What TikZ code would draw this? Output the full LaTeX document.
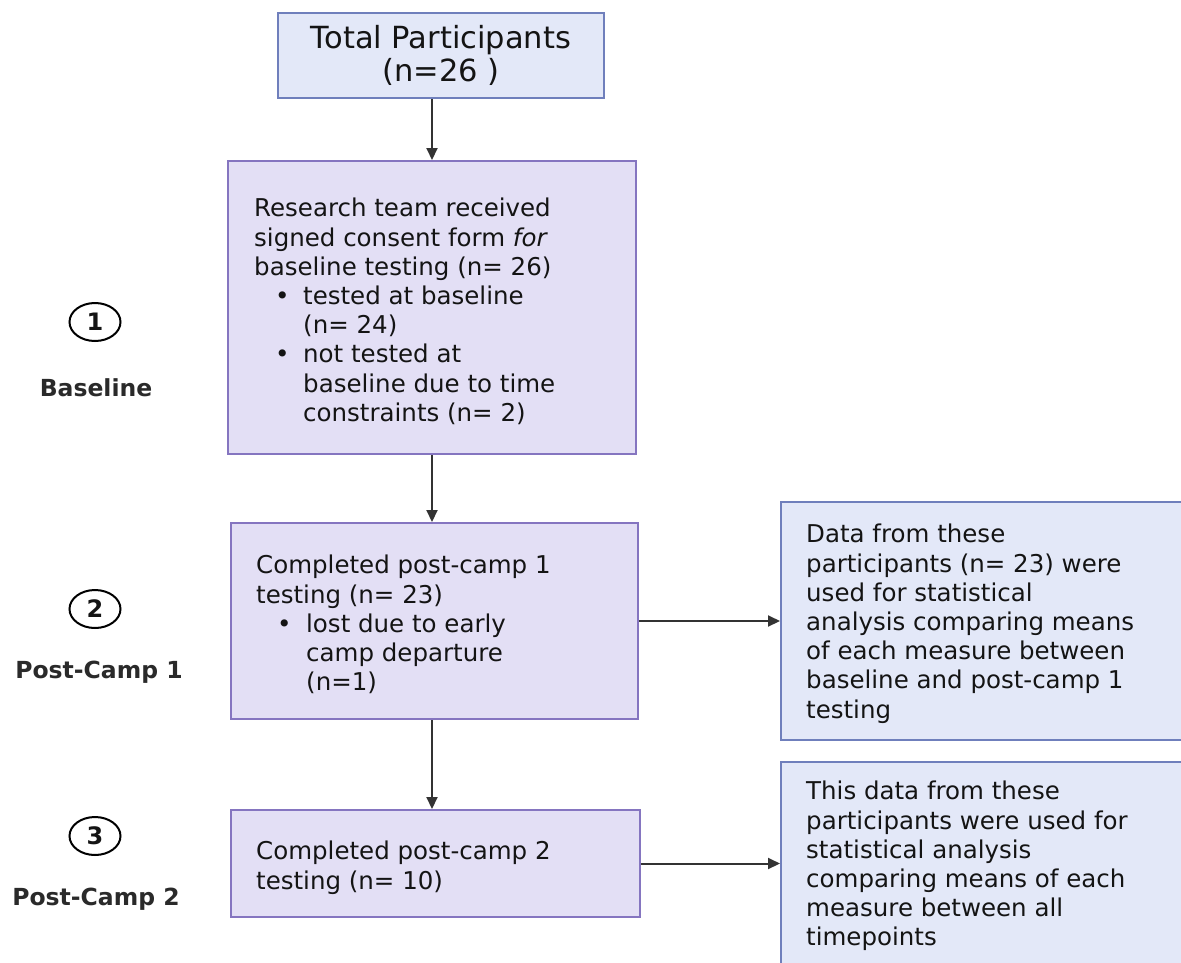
\documentclass[tikz,border=0pt]{standalone}
\usepackage{fontspec}
\setmainfont{DejaVu Sans}
\usetikzlibrary{arrows.meta,shapes.geometric}
\definecolor{bluefill}{HTML}{E3E8F8}
\definecolor{blueline}{HTML}{6F7FBC}
\definecolor{purpfill}{HTML}{E3DFF5}
\definecolor{purpline}{HTML}{8575C0}
\definecolor{arrowc}{HTML}{333333}
\definecolor{txt}{HTML}{141414}
\definecolor{lbl}{HTML}{2A2A2A}
\begin{document}
\begin{tikzpicture}[x=1pt,y=-1pt,
  bluebox/.style={draw=blueline, fill=bluefill, line width=2pt, inner sep=0pt, rectangle},
  purpbox/.style={draw=purpline, fill=purpfill, line width=2pt, inner sep=0pt, rectangle},
  body/.style={anchor=north west, inner sep=0pt, align=left, font=\fontsize{24.5}{29.2}\selectfont, text=txt},
  flow/.style={draw=arrowc, line width=2pt, -{Triangle[length=12pt,width=11pt]}},
  stage/.style={draw=black, line width=2pt, ellipse, minimum width=51pt, minimum height=38pt, inner sep=0pt, font=\bfseries\fontsize{24}{28}\selectfont, text=txt},
  stagelabel/.style={font=\bfseries\fontsize{23.5}{28}\selectfont, text=lbl, inner sep=0pt, anchor=base}
]
\useasboundingbox (0,0) rectangle (1181,962);
\clip (0,0) rectangle (1181,962);
\fill[white] (0,0) rectangle (1181,962);

% boxes
\node[bluebox, minimum width=326pt, minimum height=85pt] (top) at (441,55.5) {};
\node[purpbox, minimum width=408pt, minimum height=293pt] (consent) at (432,307.5) {};
\node[purpbox, minimum width=407pt, minimum height=196pt] (pc1) at (434.5,621) {};
\node[purpbox, minimum width=409pt, minimum height=107pt] (pc2) at (435.5,863.5) {};
\node[bluebox, minimum width=419pt, minimum height=238pt] (res1) at (990.5,621) {};
\node[bluebox, minimum width=419pt, minimum height=238pt] (res2) at (990.5,881) {};

% texts
\node[inner sep=0pt, align=center, font=\fontsize{30.5}{33}\selectfont, text=txt] (toptext) at (441,55) {Total Participants\\(n=26 )};

\node[body] (consenttext) at (254,198) {Research team received\\
signed consent form \textit{for}\\
baseline testing (n= 26)\\
\makebox[49pt][l]{\hspace*{21pt}•}tested at baseline\\
\hspace*{49pt}(n= 24)\\
\makebox[49pt][l]{\hspace*{21pt}•}not tested at\\
\hspace*{49pt}baseline due to time\\
\hspace*{49pt}constraints (n= 2)};

\node[body] (pc1text) at (256,555) {Completed post-camp 1\\
testing (n= 23)\\
\makebox[50pt][l]{\hspace*{21pt}•}lost due to early\\
\hspace*{50pt}camp departure\\
\hspace*{50pt}(n=1)};

\node[body] (pc2text) at (256,841) {Completed post-camp 2\\
testing (n= 10)};

\node[body] (res1text) at (806,524) {Data from these\\
participants (n= 23) were\\
used for statistical\\
analysis comparing means\\
of each measure between\\
baseline and post-camp 1\\
testing};

\node[body] (res2text) at (806,781) {This data from these\\
participants were used for\\
statistical analysis\\
comparing means of each\\
measure between all\\
timepoints};

% stages
\node[stage] (s1) at (95,322) {1};
\node[stagelabel] (l1) at (96,396) {Baseline};
\node[stage] (s2) at (95,609) {2};
\node[stagelabel] (l2) at (99,678) {Post-Camp 1};
\node[stage] (s3) at (95,836) {3};
\node[stagelabel] (l3) at (96,905) {Post-Camp 2};

% arrows
\draw[flow] (top.south -| consent.north) -- (consent.north);
\draw[flow] (consent.south) -- (consent.south |- pc1.north);
\draw[flow] (pc1.south -| consent.south) -- (pc2.north -| consent.south);
\draw[flow] (pc1.east) -- (pc1.east -| res1.west);
\draw[flow] (pc2.east) -- (pc2.east -| res2.west);
\end{tikzpicture}
\end{document}
